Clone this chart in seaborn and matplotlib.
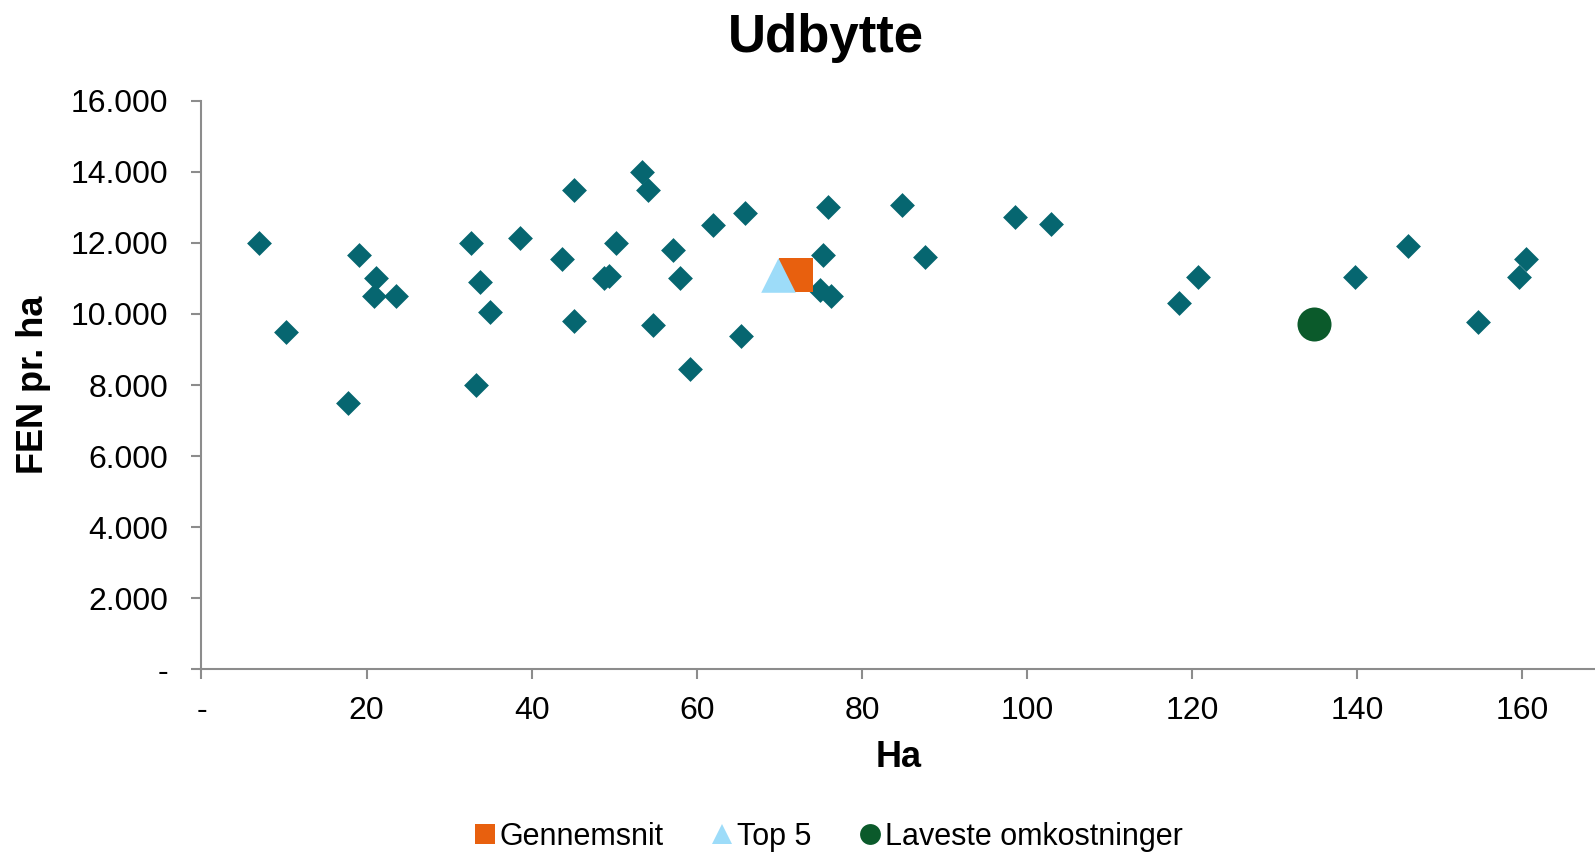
import pandas as pd
import matplotlib.pyplot as plt
import seaborn as sns
from matplotlib.ticker import FuncFormatter, MultipleLocator
from matplotlib.lines import Line2D

sns.set_theme(style='white')
plt.rcParams['font.family'] = ['Liberation Sans', 'DejaVu Sans']
plt.rcParams['text.color'] = 'black'
plt.rcParams['axes.labelcolor'] = 'black'

# bedrifter: areal (ha) og udbytte (FEN pr. ha)
ha = [7.0, 10.3, 17.7, 19.1, 21.2, 20.9, 23.6, 32.6, 33.7, 35.0, 33.3, 38.6,
      45.1, 43.7, 45.1, 48.8, 49.4, 50.2, 53.4, 54.1, 54.7, 57.1, 58.0, 59.2,
      62.0, 65.9, 65.3, 75.9, 75.3, 74.9, 76.2, 84.9, 87.7, 98.5, 102.9,
      118.4, 120.7, 139.7, 146.1, 154.6, 159.6, 160.5]
fen = [12000, 9500, 7500, 11650, 11000, 10500, 10500, 12000, 10900, 10050, 8000, 12150,
       13500, 11550, 9800, 11000, 11070, 12000, 14000, 13500, 9700, 11800, 11000, 8450,
       12500, 12830, 9380, 13020, 11660, 10680, 10500, 13070, 11610, 12740, 12530,
       10310, 11030, 11050, 11910, 9760, 11050, 11540]

# særlige punkter
gns_ha, gns_fen = [72.0], [11100]
top5_ha, top5_fen = [69.8], [11100]
lav_ha, lav_fen = [134.8], [9720]

teal = '#066670'
orange = '#E8600E'
lightblue = '#9DDCF9'
green = '#0B5A2B'
grey = '#8C8C8C'

df = pd.DataFrame({'Ha': ha, 'FEN': fen})

fig = plt.figure(figsize=(15.95, 8.52), dpi=100)
ax = fig.add_axes([0.1263, 0.2144, 0.8737, 0.6674])

sns.scatterplot(data=df, x='Ha', y='FEN', marker='D', s=160, color=teal,
                linewidth=0, ax=ax, zorder=3)
sns.scatterplot(x=gns_ha, y=gns_fen, marker='s', s=620, color=orange,
                linewidth=0, ax=ax, zorder=4)
sns.scatterplot(x=top5_ha, y=top5_fen, marker='^', s=620, color=lightblue,
                linewidth=0, ax=ax, zorder=5)
sns.scatterplot(x=lav_ha, y=lav_fen, marker='o', s=600, color=green,
                linewidth=0, ax=ax, zorder=5)

ax.set_xlim(0, 168.8)
ax.set_ylim(0, 16000)
ax.xaxis.set_major_locator(MultipleLocator(20))
ax.yaxis.set_major_locator(MultipleLocator(2000))


def dk_fmt(v, pos):
    if abs(v) < 1e-9:
        return '-'
    return f'{v:,.0f}'.replace(',', '.')


ax.xaxis.set_major_formatter(FuncFormatter(dk_fmt))
ax.yaxis.set_major_formatter(FuncFormatter(dk_fmt))

for side in ['top', 'right']:
    ax.spines[side].set_visible(False)
for side in ['left', 'bottom']:
    ax.spines[side].set_color(grey)
    ax.spines[side].set_linewidth(1.5)

ax.tick_params(axis='both', which='major', direction='out', length=7,
               width=1.5, color=grey, labelsize=23, labelcolor='black',
               bottom=True, left=True)
ax.tick_params(axis='x', pad=12)
ax.tick_params(axis='y', pad=17)

ax.set_xlabel('Ha', fontsize=26, fontweight='bold', labelpad=10, color='black')
ax.set_ylabel('FEN pr. ha', fontsize=26, fontweight='bold', labelpad=14, color='black')

fig.text(0.518, 0.955, 'Udbytte', ha='center', va='center',
         fontsize=38, fontweight='bold', color='black')

handles = [
    Line2D([], [], marker='s', linestyle='none', color=orange, markersize=15, markeredgewidth=0),
    Line2D([], [], marker='^', linestyle='none', color=lightblue, markersize=15, markeredgewidth=0),
    Line2D([], [], marker='o', linestyle='none', color=green, markersize=15, markeredgewidth=0),
]
labels = ['Gennemsnit', 'Top 5', 'Laveste omkostninger']
fig.legend(handles, labels, loc='center', bbox_to_anchor=(0.518, 0.018), ncol=3,
           frameon=False, fontsize=22, handletextpad=0.0, columnspacing=1.4,
           handlelength=1.0, labelcolor='black')

fig.savefig('out.png', dpi=100)
